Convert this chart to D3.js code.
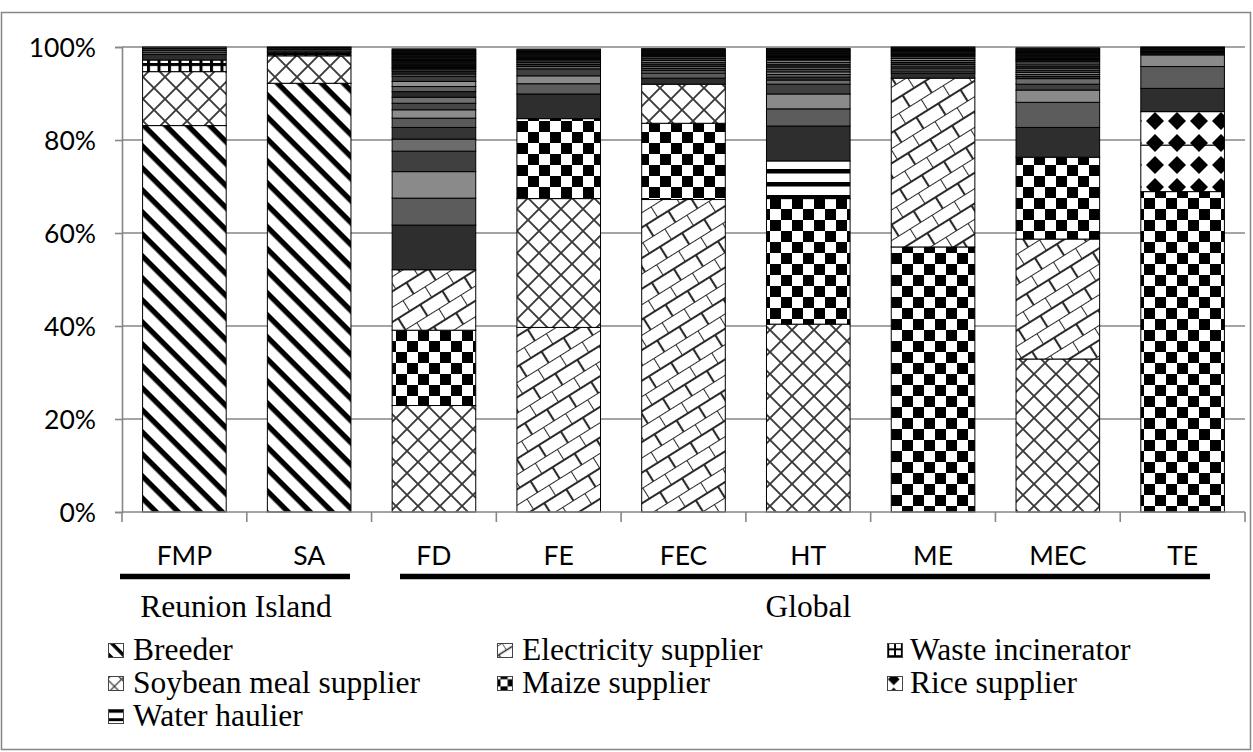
<!DOCTYPE html>
<html>
<head>
<meta charset="utf-8">
<script src="https://cdn.jsdelivr.net/npm/d3@7"></script>
<style>
  html, body { margin: 0; padding: 0; background: #fff; }
  svg { display: block; }
</style>
</head>
<body>
<svg id="chart" width="1253" height="752"></svg>
<script>
// ---------------- DATA ----------------
const categories = ['FMP', 'SA', 'FD', 'FE', 'FEC', 'HT', 'ME', 'MEC', 'TE'];
const groupLabels = ['Reunion Island', 'Global'];
const groupFirst = ['FMP', 'FD'];
const groupLast = ['SA', 'TE'];
const yTicks = [0, 20, 40, 60, 80, 100];

// named (legend) series, % of each bar
const breeder      = [83.1, 92.2, 0, 0, 0, 0, 0, 0, 0];
const soybeanMeal  = [11.6, 5.9, 22.9, 27.7, 8.4, 40.4, 0, 32.9, 0];
const electricity  = [0, 0, 13.0, 39.7, 67.2, 0, 36.3, 25.8, 0];
const maize        = [0, 0, 16.2, 17.2, 16.4, 27.0, 57.0, 17.6, 68.9];
const riceA        = [0, 0, 0, 0, 0, 0, 0, 0, 10.0];
const riceB        = [0, 0, 0, 0, 0, 0, 0, 0, 7.2];
const wasteIncin   = [2.5, 0.8, 0, 0, 0, 0, 0, 0, 0];
const waterHaulier = [0, 0, 0, 0, 0, 8.1, 0, 0, 0];

// unlabelled remaining suppliers, per bar (largest first)
const othersFMP = [1.2, 0.5, 0.4, 0.4, 0.3];
const othersSA  = [0.6, 0.3, 0.2];
const othersFD  = [9.6, 5.8, 5.7, 4.4, 2.6, 2.5, 2.0, 1.8, 1.4, 1.3, 1.2, 1.1, 1.1, 1.1, 0.5, 0.5, 0.4,
                   0.25, 0.25, 0.25, 0.25, 0.25, 0.25, 0.25, 0.25, 0.25, 0.25, 0.25, 0.25, 0.25, 0.25, 0.25, 0.25, 0.25, 0.25];
const othersFE  = [5.3, 2.2, 1.7, 1.5, 0.5, 0.45, 0.4, 0.35, 0.3,
                   0.25, 0.25, 0.25, 0.25, 0.25, 0.25, 0.25, 0.25, 0.25];
const othersFEC = [1.3, 1.1, 0.5, 0.5, 0.45, 0.45, 0.4, 0.4, 0.4, 0.4,
                   0.25, 0.25, 0.25, 0.25, 0.25, 0.25, 0.25];
const othersHT  = [7.5, 3.7, 3.2, 2.1, 0.9, 0.6, 0.6, 0.55, 0.55, 0.5, 0.5, 0.5, 0.5,
                   0.25, 0.25, 0.25, 0.25, 0.25, 0.25, 0.25, 0.25, 0.25, 0.25];
const othersME  = [1.1, 0.45, 0.45, 0.45, 0.45, 0.45, 0.45, 0.45, 0.45,
                   0.25, 0.25, 0.25, 0.25, 0.25, 0.25, 0.25, 0.25];
const othersMEC = [6.4, 5.4, 2.65, 1.25, 1.2, 0.45, 0.45, 0.45, 0.45, 0.45, 0.45, 0.45, 0.45,
                   0.25, 0.25, 0.25, 0.25, 0.25, 0.25, 0.25, 0.25, 0.25, 0.25, 0.25, 0.25];
const othersTE  = [5.0, 4.7, 2.5, 0.25, 0.25, 0.25, 0.25, 0.25, 0.25, 0.2];
const othersByBar = [othersFMP, othersSA, othersFD, othersFE, othersFEC, othersHT, othersME, othersMEC, othersTE];

const legendNames = ['Breeder', 'Electricity supplier', 'Waste incinerator',
                     'Soybean meal supplier', 'Maize supplier', 'Rice supplier', 'Water haulier'];
const legendKeys  = ['breeder', 'electricity', 'waste', 'soybean', 'maize', 'rice', 'water'];

const greys = ['#2e2e2e', '#5c5c5c', '#8a8a8a', '#404040', '#6c6c6c', '#353535', '#5a5a5a',
               '#8c8c8c', '#474747', '#707070', '#2a2a2a', '#606060', '#909090', '#3c3c3c', '#666666'];

const namedSeries = [
  { key: 'breeder', values: breeder },
  { key: 'soybean', values: soybeanMeal },
  { key: 'electricity', values: electricity },
  { key: 'maize', values: maize },
  { key: 'rice', values: riceA },
  { key: 'rice', values: riceB },
  { key: 'waste', values: wasteIncin },
  { key: 'water', values: waterHaulier }
];

// ---------------- LAYOUT ----------------
const svg = d3.select('#chart');
const plotL = 122, plotR = 1245, plotT = 47, plotB = 512;
const axisGrey = '#868686';

const x = d3.scaleBand().domain(categories).range([plotL, plotR]).paddingInner(0.33).paddingOuter(0.165);
const y = d3.scaleLinear().domain([0, 100]).range([plotB, plotT]);

// ---------------- PATTERNS ----------------
const defs = svg.append('defs');
function makePatterns(suffix, s) {
  const mk = (id, w, h, tr) => {
    const p = defs.append('pattern').attr('id', id + suffix)
      .attr('patternUnits', 'userSpaceOnUse').attr('width', w).attr('height', h);
    if (tr) p.attr('patternTransform', tr);
    p.append('rect').attr('width', w).attr('height', h).attr('fill', '#fff');
    return p;
  };
  let P = 15.56 * s;
  let p = mk('breeder', P, P, 'rotate(45)');
  p.append('rect').attr('x', 0).attr('y', 0).attr('width', P).attr('height', 5.3 * s).attr('fill', '#000');
  P = 22 * s;
  p = mk('soybean', P, P);
  p.append('path').attr('d', `M0,0L${P},${P}M${P},0L0,${P}`).attr('stroke', '#3a3a3a')
    .attr('stroke-width', Math.max(1, 1.9 * s)).attr('fill', 'none');
  P = 26 * s;
  p = mk('electricity', P, P, 'rotate(-32)');
  p.append('path').attr('d', `M0,0H${P}M0,${P / 2}H${P}M0,0V${P / 2}M${P / 2},${P / 2}V${P}`)
    .attr('stroke', '#2a2a2a').attr('stroke-width', Math.max(1, 2.1 * s)).attr('fill', 'none');
  P = 10.5 * s;
  p = mk('waste', P, P);
  p.append('rect').attr('width', P).attr('height', 3 * s).attr('fill', '#000');
  p.append('rect').attr('width', 3 * s).attr('height', P).attr('fill', '#000');
  P = 22 * s;
  p = mk('maize', P, P);
  p.append('rect').attr('width', P / 2).attr('height', P / 2).attr('fill', '#000');
  p.append('rect').attr('x', P / 2).attr('y', P / 2).attr('width', P / 2).attr('height', P / 2).attr('fill', '#000');
  P = 22 * s;
  p = mk('rice', P, P);
  const c = P / 2, r = 9 * s;
  p.append('path').attr('d', `M${c},${c - r}L${c + r},${c}L${c},${c + r}L${c - r},${c}Z`).attr('fill', '#000');
  P = 13 * s;
  p = mk('water', P, P);
  p.append('rect').attr('width', P).attr('height', 4.5 * s).attr('fill', '#000');
}
makePatterns('', 1);
makePatterns('-icon', 0.65);

// ---------------- FRAME ----------------
svg.append('rect').attr('x', 1.5).attr('y', 12.5).attr('width', 1249).attr('height', 737)
  .attr('fill', 'none').attr('stroke', axisGrey).attr('stroke-width', 1.5);

svg.append('g').selectAll('line').data(yTicks.filter(d => d > 0)).join('line')
  .attr('x1', plotL).attr('x2', plotR).attr('y1', d => y(d)).attr('y2', d => y(d))
  .attr('stroke', axisGrey).attr('stroke-width', 1.6);

// ---------------- BARS ----------------
const barsG = svg.append('g');
categories.forEach((cat, i) => {
  const segs = [];
  namedSeries.forEach(s => { if (s.values[i] > 0) segs.push({ v: s.values[i], fill: `url(#${s.key})` }); });
  othersByBar[i].forEach((v, k) => segs.push({ v, fill: greys[k % greys.length] }));
  segs.sort((a, b) => b.v - a.v);
  let acc = 0;
  segs.forEach(sg => { sg.y0 = acc; acc += sg.v; sg.y1 = acc; });
  barsG.append('g').selectAll('rect').data(segs).join('rect')
    .attr('x', x(cat)).attr('width', x.bandwidth())
    .attr('y', d => y(d.y1)).attr('height', d => y(d.y0) - y(d.y1))
    .attr('fill', d => d.fill).attr('stroke', '#000').attr('stroke-width', 1);
});

// ---------------- AXES ----------------
const yAxis = svg.append('g').attr('transform', `translate(${plotL},0)`)
  .call(d3.axisLeft(y).tickValues(yTicks).tickFormat(d => d + '%').tickSize(7).tickPadding(19));
yAxis.select('.domain').attr('stroke', axisGrey).attr('stroke-width', 1.6);
yAxis.selectAll('.tick line').attr('stroke', axisGrey).attr('stroke-width', 1.6);
yAxis.selectAll('.tick text').attr('font-family', 'Lato, "Open Sans", sans-serif')
  .attr('font-size', 26.5).attr('fill', '#000').attr('dy', '0.36em');

svg.append('line').attr('x1', plotL).attr('x2', plotR).attr('y1', plotB).attr('y2', plotB)
  .attr('stroke', axisGrey).attr('stroke-width', 1.6);
const step = x.step();
svg.append('g').selectAll('line').data(d3.range(categories.length + 1)).join('line')
  .attr('x1', i => plotL + i * step).attr('x2', i => plotL + i * step)
  .attr('y1', plotB).attr('y2', plotB + 10)
  .attr('stroke', axisGrey).attr('stroke-width', 1.6);

svg.append('g').selectAll('text').data(categories).join('text')
  .attr('x', d => x(d) + x.bandwidth() / 2).attr('y', 565)
  .attr('text-anchor', 'middle').attr('font-family', 'Lato, "Open Sans", sans-serif')
  .attr('font-size', 26.5).text(d => d);

const groupX0 = [plotL - 2, 400];
const groupX1 = [350, 1210];
groupLabels.forEach((g, k) => {
  svg.append('line').attr('x1', groupX0[k]).attr('x2', groupX1[k]).attr('y1', 576.5).attr('y2', 576.5)
    .attr('stroke', '#000').attr('stroke-width', 5.5);
  const cx = (x(groupFirst[k]) + x(groupLast[k]) + x.bandwidth()) / 2;
  svg.append('text').attr('x', k === 0 ? 236 : cx).attr('y', 617).attr('text-anchor', 'middle')
    .attr('font-family', '"Liberation Serif", "Times New Roman", serif').attr('font-size', 31.5).text(g);
});

// ---------------- LEGEND ----------------
const colIconX = [108, 497, 887];
const colTextX = [133, 522, 910];
const rowBase = [660, 693, 726];
const lg = svg.append('g');
legendNames.forEach((name, i) => {
  const col = i % 3, row = Math.floor(i / 3);
  lg.append('rect').attr('x', colIconX[col] + 0.5).attr('y', rowBase[row] - 16.5)
    .attr('width', 15).attr('height', 14)
    .attr('fill', `url(#${legendKeys[i]}-icon)`).attr('stroke', '#444').attr('stroke-width', 1);
  lg.append('text').attr('x', colTextX[col]).attr('y', rowBase[row])
    .attr('font-family', '"Liberation Serif", "Times New Roman", serif').attr('font-size', 31.5)
    .text(name);
});
</script>
</body>
</html>
